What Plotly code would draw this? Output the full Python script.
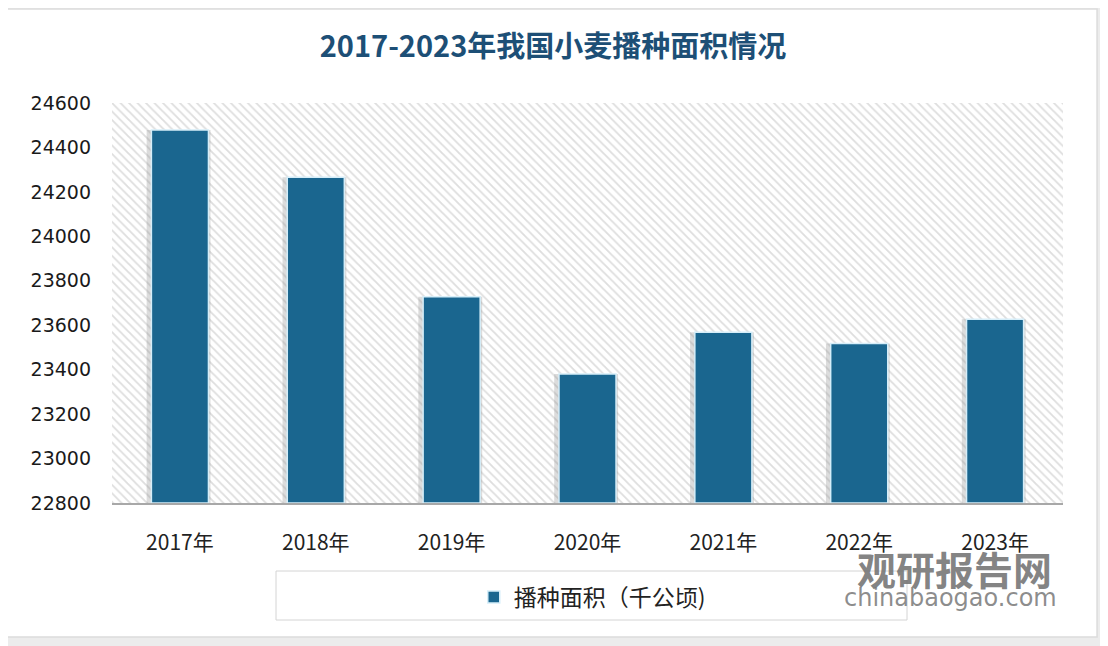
import plotly.graph_objects as go

years = ["2017年", "2018年", "2019年", "2020年", "2021年", "2022年", "2023年"]
area = [24478, 24266, 23728, 23380, 23568, 23518, 23627]
y_ticks = [22800, 23000, 23200, 23400, 23600, 23800, 24000, 24200, 24400, 24600]
series_name = "播种面积（千公顷)"
title_text = "2017-2023年我国小麦播种面积情况"

BAR_COLOR = "#1a668f"
FONT = "Noto Sans CJK SC"

fig = go.Figure()

# hatched plot-area background (decorative) on the base axes
fig.add_trace(go.Bar(
    x=[0.5], y=[1], width=[1], xaxis="x", yaxis="y",
    marker=dict(color="white", line=dict(width=0),
                pattern=dict(shape="\\", fgcolor="#bdbdbd", bgcolor="white",
                             size=6, solidity=0.3)),
    showlegend=False, hoverinfo="skip",
))

# soft shadow behind bars
fig.add_trace(go.Bar(
    x=years, y=[v - y_ticks[0] for v in area], base=y_ticks[0],
    xaxis="x2", yaxis="y2", width=0.47, offset=-0.245,
    marker=dict(color="rgba(140,140,140,0.30)", line=dict(width=0)),
    showlegend=False, hoverinfo="skip",
))

# data bars
fig.add_trace(go.Bar(
    x=years, y=[v - y_ticks[0] for v in area], base=y_ticks[0],
    xaxis="x2", yaxis="y2", width=0.42, name=series_name,
    marker=dict(color=BAR_COLOR, line=dict(color="#d6eef9", width=1.5)),
))

fig.update_layout(
    width=1108, height=646,
    margin=dict(l=104, r=53, t=95, b=151, autoexpand=False),
    paper_bgcolor="#ececec", plot_bgcolor="white",
    barmode="overlay",
    font=dict(family=FONT, color="#222222"),
    title=dict(text="<b>" + title_text + "</b>", x=0.4919, xanchor="center",
               y=0.9396, yanchor="middle",
               font=dict(family=FONT, size=29, color="#1d4f76")),
    xaxis=dict(range=[0, 1], visible=False, fixedrange=True),
    yaxis=dict(range=[0, 1], visible=False, fixedrange=True),
    xaxis2=dict(overlaying="x", anchor="y2", type="category",
                showline=True, linecolor="#a8a8a8", linewidth=2,
                showgrid=False, ticks="", ticklabelstandoff=20,
                tickfont=dict(size=21, color="#222222", family=FONT)),
    yaxis2=dict(overlaying="y", anchor="x2", side="left",
                range=[y_ticks[0], y_ticks[-1]], tickvals=y_ticks,
                tickformat="d",
                showgrid=False, zeroline=False, showline=False, ticks="",
                ticklabelstandoff=20,
                tickfont=dict(size=19, color="#1a1a1a", family="DejaVu Sans")),
    legend=dict(x=0.505, y=-0.235, xanchor="center", yanchor="middle",
                orientation="h", bgcolor="rgba(0,0,0,0)",
                font=dict(size=23, color="#222222", family=FONT)),
    shapes=[
        dict(type="rect", xref="paper", yref="paper", layer="below",
             x0=-0.1125, x1=1.0358, y0=-0.335, y1=1.235,
             fillcolor="white", line=dict(color="#dcdcdc", width=1.5)),
        dict(type="rect", xref="paper", yref="paper", layer="below",
             x0=(276 - 112) / 951, x1=(907 - 112) / 951,
             y0=1 - (620 - 103) / 400, y1=1 - (571 - 103) / 400,
             fillcolor="white", line=dict(color="#d4d4d4", width=1)),
    ],
    annotations=[
        dict(text="<b>观研报告网</b>", xref="paper", yref="paper",
             x=(954 - 112) / 951, y=1 - (568 - 103) / 400,
             xanchor="center", yanchor="middle", showarrow=False,
             font=dict(size=39, color="rgba(110,110,110,0.85)", family=FONT)),
        dict(text="chinabaogao.com", xref="paper", yref="paper",
             x=(950 - 112) / 951, y=1 - (598 - 103) / 400,
             xanchor="center", yanchor="middle", showarrow=False,
             font=dict(size=24, color="rgba(120,120,120,0.85)", family="DejaVu Sans")),
    ],
)

fig.write_html("out.html")
